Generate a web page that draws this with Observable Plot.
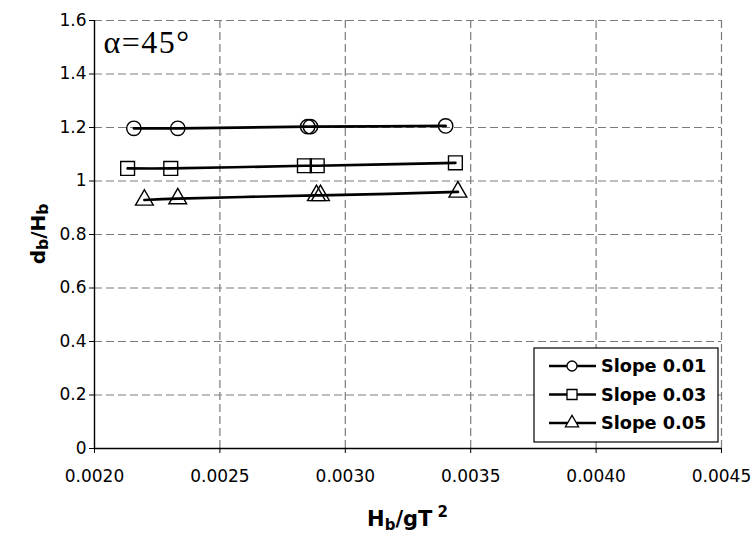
<!DOCTYPE html>
<html>
<head>
<meta charset="utf-8">
<script src="https://cdn.jsdelivr.net/npm/d3@7"></script>
<script src="https://cdn.jsdelivr.net/npm/@observablehq/plot@0.6"></script>
<style>
  body { margin: 0; background: #fff; }
</style>
</head>
<body>
<div id="chart"></div>
<script>
// Breaking depth ratio d_b/H_b against wave steepness H_b/gT^2, beach angle 45°
const seriesNames = ["Slope 0.01", "Slope 0.03", "Slope 0.05"];
const seriesSymbols = ["circle", "square", "triangle"];

const slope001X = [0.002157, 0.002332, 0.002850, 0.002861, 0.003400];
const slope001Y = [1.197, 1.197, 1.203, 1.203, 1.206];

const slope003X = [0.002132, 0.002304, 0.002837, 0.002888, 0.003439];
const slope003Y = [1.047, 1.047, 1.057, 1.057, 1.068];

const slope005X = [0.002199, 0.002332, 0.002885, 0.002901, 0.003449];
const slope005Y = [0.929, 0.934, 0.946, 0.946, 0.959];

const xTicks = [0.0020, 0.0025, 0.0030, 0.0035, 0.0040, 0.0045];
const yTicks = [0, 0.2, 0.4, 0.6, 0.8, 1.0, 1.2, 1.4, 1.6];

const seriesX = [slope001X, slope003X, slope005X];
const seriesY = [slope001Y, slope003Y, slope005Y];
const rows = seriesNames.flatMap((name, i) =>
  seriesX[i].map((x, j) => ({series: name, symbol: seriesSymbols[i], x, y: seriesY[i][j]}))
);

const W = 755, H = 538;
const mL = 94, mR = 34, mT = 20, mB = 90;
const grid = {stroke: "#7a7a7a", strokeOpacity: 1, strokeDasharray: "8,4", strokeWidth: 1.2};
const markerSize = {circle: 7.2, square: 7.8, triangle: 6.6};

const chart = Plot.plot({
  width: W,
  height: H,
  marginLeft: mL,
  marginRight: mR,
  marginTop: mT,
  marginBottom: mB,
  style: {fontFamily: "DejaVu Sans", fontSize: "17px", background: "#fff", color: "#000", overflow: "visible"},
  x: {domain: [0.0020, 0.0045], label: null},
  y: {domain: [0, 1.6], label: null},
  marks: [
    Plot.gridX(xTicks.slice(1), grid),
    Plot.gridY(yTicks.slice(1), grid),
    Plot.axisX(xTicks, {tickSize: 5, tickPadding: 16, tickFormat: d3.format(".4f"), label: null, stroke: "#000"}),
    Plot.axisY(yTicks, {tickSize: 5, tickPadding: 3, tickFormat: d => String(+d.toFixed(1)), label: null, stroke: "#000"}),
    Plot.ruleX([0.0020], {stroke: "#000", strokeWidth: 1.4}),
    Plot.ruleY([0], {stroke: "#000", strokeWidth: 1.4}),
    Plot.line(rows, {x: "x", y: "y", z: "series", curve: "catmull-rom", stroke: "#000", strokeWidth: 2.7}),
    ...seriesSymbols.map(s =>
      Plot.dot(rows.filter(d => d.symbol === s), {
        x: "x", y: "y", symbol: s, r: markerSize[s], fill: "none", stroke: "#000", strokeWidth: 1.4
      })
    ),
    Plot.text(["α=45°"], {
      frameAnchor: "top-left", textAnchor: "start", lineAnchor: "middle",
      dx: 9, dy: 22, fontFamily: "Liberation Serif", fontSize: 32, fill: "#000"
    })
  ]
});

document.getElementById("chart").appendChild(chart);
const svg = d3.select(chart);
svg.selectAll("text").filter(function() { return this.textContent === "α=45°"; })
  .style("letter-spacing", "1.5px");

// Axis titles with subscripts / superscript
const xt = svg.append("text")
  .attr("x", (mL + (W - mR)) / 2).attr("y", 526)
  .attr("text-anchor", "middle")
  .attr("font-family", "DejaVu Sans").attr("font-weight", "bold").attr("font-size", 21)
  .attr("fill", "#000");
xt.append("tspan").text("H");
xt.append("tspan").attr("font-size", 15).attr("dy", 4).text("b");
xt.append("tspan").attr("dy", -4).text("/gT");
xt.append("tspan").attr("font-size", 15).attr("dy", -9).attr("dx", 5).text("2");

const yt = svg.append("text")
  .attr("transform", `translate(45,${(mT + (H - mB)) / 2}) rotate(-90)`)
  .attr("text-anchor", "middle")
  .attr("font-family", "DejaVu Sans").attr("font-weight", "bold").attr("font-size", 20)
  .attr("fill", "#000");
yt.append("tspan").text("d");
yt.append("tspan").attr("font-size", 15.5).attr("dy", 3).text("b");
yt.append("tspan").attr("dy", -3).text("/H");
yt.append("tspan").attr("font-size", 15.5).attr("dy", 3).text("b");

// Legend box in the lower-right corner of the plot frame
const lg = svg.append("g").attr("transform", "translate(534,348)");
lg.append("rect").attr("width", 184).attr("height", 94)
  .attr("fill", "#fff").attr("stroke", "#000").attr("stroke-width", 1.2);
const symbolPath = {
  circle: d3.symbol(d3.symbolCircle, Math.PI * 5 * 5)(),
  square: d3.symbol(d3.symbolSquare, 100)(),
  triangle: d3.symbol(d3.symbolTriangle, 75)()
};
seriesNames.forEach((name, i) => {
  const row = lg.append("g").attr("transform", `translate(0,${18 + i * 28.5})`);
  row.append("line").attr("x1", 15).attr("x2", 62).attr("y1", 0).attr("y2", 0)
    .attr("stroke", "#000").attr("stroke-width", 2.6);
  row.append("path").attr("d", symbolPath[seriesSymbols[i]])
    .attr("transform", "translate(38,0)")
    .attr("fill", "#fff").attr("stroke", "#000").attr("stroke-width", 1.3);
  row.append("text").attr("x", 67).attr("y", 0).attr("dy", "0.36em")
    .attr("text-anchor", "start")
    .attr("font-family", "DejaVu Sans").attr("font-weight", "bold").attr("font-size", 17.7)
    .attr("fill", "#000").text(name);
});
</script>
</body>
</html>
